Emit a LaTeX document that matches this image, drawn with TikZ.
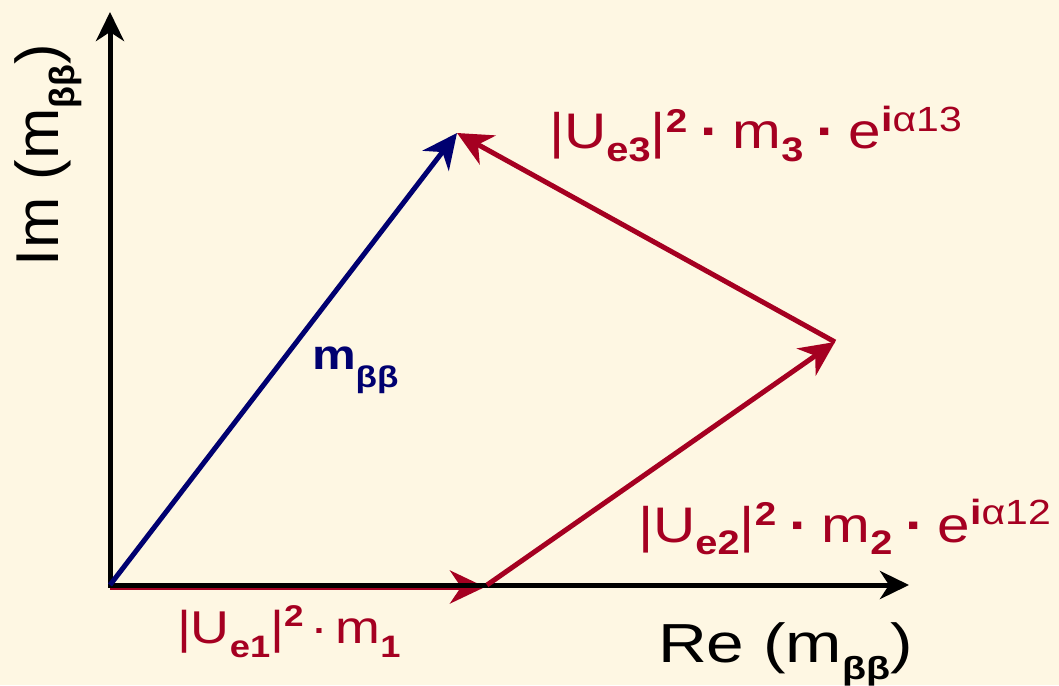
\documentclass[tikz,border=0pt]{standalone}
\usepackage{fontspec}
\setmainfont{Liberation Sans}
\usepackage{graphicx}
\usetikzlibrary{arrows.meta}
\definecolor{bgc}{HTML}{FEF7E3}
\definecolor{vred}{HTML}{A50021}
\definecolor{vblue}{HTML}{000070}
\newcommand{\hs}[1]{\scalebox{1.17}[1]{#1}}
\newcommand{\lowb}[3]{\raisebox{-#1pt}{\fontsize{#2}{#2}\selectfont\bfseries #3}}
\newcommand{\upt}[3]{\raisebox{#1pt}{\fontsize{#2}{#2}\selectfont #3}}
\newcommand{\bdot}{\hspace{11pt}{\bfseries ·}\hspace{11pt}}
\begin{document}
\begin{tikzpicture}[x=1pt,y=-1pt,
  axis/.style={line width=5pt, draw=black, line cap=rect, -{Stealth[length=29pt,width=28pt,inset=9pt]}},
  vec/.style={line width=5pt, -{Stealth[length=35pt,width=33pt,inset=11pt]}},
  redvec/.style={vec, draw=vred},
  bluevec/.style={vec, draw=vblue},
  lbl/.style={anchor=base west, inner sep=0pt, outer sep=0pt},
  redlbl/.style={lbl, text=vred}]
\fill[bgc] (0,0) rectangle (1059,685);
\useasboundingbox (0,0) rectangle (1059,685);
\coordinate (O) at (110,585);
\coordinate (Xe) at (909,585);
\coordinate (Ye) at (110,12);
\coordinate (R0) at (110,587);
\coordinate (A) at (485,587);
\coordinate (A2) at (487,585);
\coordinate (B) at (835,342);
\coordinate (C) at (457,133);
% red vector 1 (under axis)
\draw[redvec] (R0) -- (A);
% axes
\draw[axis] (O) -- (Ye);
\draw[axis] (O) -- (Xe);
% vectors
\draw[redvec] (A2) -- (B);
\draw[redvec] (B) -- (C);
\draw[bluevec] (O) -- (C);
% labels
\node[redlbl] (l1) at (177,643) {\hs{\fontsize{46}{56}\selectfont |U\lowb{14}{31}{e1}|\upt{17}{30}{\bfseries 2}\hspace{6pt}·\hspace{6pt}m\lowb{14}{31}{1}}};
\node[redlbl] (l2) at (638,542) {\hs{\fontsize{50}{60}\selectfont |U\lowb{12}{34}{e2}|\upt{17}{33}{\bfseries 2}\bdot m\lowb{12}{34}{2}\bdot e\upt{18}{35}{\textbf{i}α12}}};
\node[redlbl] (l3) at (549,148) {\hs{\fontsize{50}{60}\selectfont |U\lowb{13}{34}{e3}|\upt{16}{33}{\bfseries 2}\bdot m\lowb{13}{34}{3}\bdot e\upt{17}{35}{\textbf{i}α13}}};
\node[lbl] (re) at (658,662) {\scalebox{1.23}[1]{\fontsize{55}{64}\selectfont Re (m\lowb{17}{32}{ββ})}};
\node[lbl, rotate=90] (im) at (58,266) {\scalebox{1.12}[1.1]{\fontsize{55}{64}\selectfont Im (m\lowb{15}{32}{ββ})}};
\node[lbl, text=vblue] (mbb) at (312,369) {\hs{\fontsize{42}{50}\selectfont\bfseries m\lowb{18}{30}{ββ}}};
\end{tikzpicture}
\end{document}
